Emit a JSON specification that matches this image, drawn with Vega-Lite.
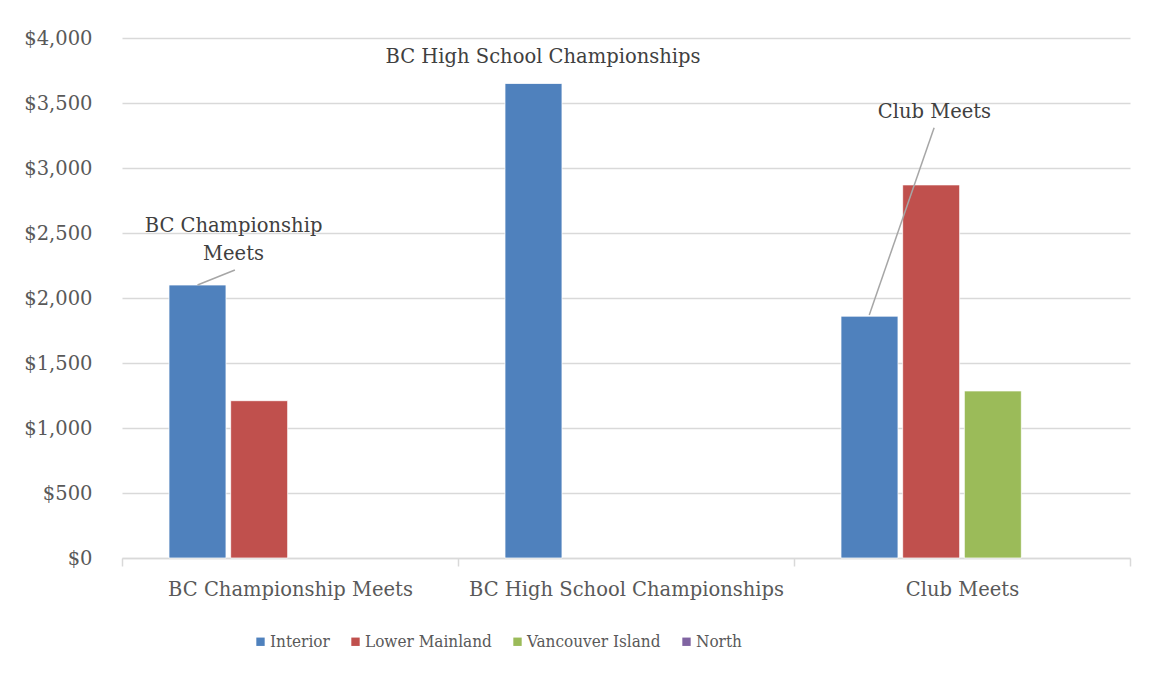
{
  "$schema": "https://vega.github.io/schema/vega-lite/v6.json",
  "autosize": "none",
  "width": 1008,
  "height": 520,
  "padding": {"left": 122, "top": 38, "right": 19, "bottom": 116},
  "background": "white",
  "config": {
    "font": "DejaVu Serif",
    "view": {"stroke": null},
    "axis": {"labelFont": "DejaVu Serif", "labelColor": "#595959", "labelFontSize": 19.5},
    "legend": {"labelFont": "DejaVu Serif Condensed"}
  },
  "datasets": {
    "bars": [
      {"category": "BC Championship Meets", "region": "Interior", "amount": 2100},
      {"category": "BC Championship Meets", "region": "Lower Mainland", "amount": 1210},
      {"category": "BC High School Championships", "region": "Interior", "amount": 3650},
      {"category": "Club Meets", "region": "Interior", "amount": 1860},
      {"category": "Club Meets", "region": "Lower Mainland", "amount": 2870},
      {"category": "Club Meets", "region": "Vancouver Island", "amount": 1285}
    ],
    "notes": [
      {"label": "BC Championship\nMeets", "pos": 0.332, "amount": 2554},
      {"label": "BC High School Championships", "pos": 1.253, "amount": 3855},
      {"label": "Club Meets", "pos": 2.418, "amount": 3431}
    ],
    "leaders": [
      {"pos": 0.2247, "amount": 2100, "pos2": 0.336, "amount2": 2215},
      {"pos": 2.224, "amount": 1870, "pos2": 2.417, "amount2": 3310}
    ]
  },
  "layer": [
    {
      "data": {"name": "bars"},
      "mark": {"type": "bar", "stroke": "white", "strokeWidth": 0.75},
      "encoding": {
        "x": {
          "field": "category",
          "type": "nominal",
          "sort": ["BC Championship Meets", "BC High School Championships", "Club Meets"],
          "scale": {"paddingInner": 0, "paddingOuter": 0},
          "axis": {
            "title": null,
            "labelAngle": 0,
            "labelFontSize": 19.5,
            "labelColor": "#595959",
            "labelLimit": 0,
            "tickBand": "extent",
            "ticks": true,
            "tickSize": 8,
            "tickColor": "#d9d9d9",
            "tickWidth": 1.5,
            "domainColor": "#d9d9d9",
            "domainWidth": 1.5,
            "labelPadding": 14,
            "grid": false
          }
        },
        "xOffset": {
          "field": "region",
          "type": "nominal",
          "scale": {
            "domain": ["Interior", "Lower Mainland", "Vancouver Island", "North"],
            "paddingInner": 0.076,
            "paddingOuter": 0.762
          }
        },
        "y": {
          "field": "amount",
          "type": "quantitative",
          "scale": {"domain": [0, 4000], "nice": false},
          "axis": {
            "title": null,
            "values": [0, 500, 1000, 1500, 2000, 2500, 3000, 3500, 4000],
            "format": "$,.0f",
            "domain": false,
            "ticks": false,
            "labelPadding": 30,
            "gridColor": "#d9d9d9",
            "gridWidth": 1.5
          }
        },
        "color": {
          "field": "region",
          "type": "nominal",
          "scale": {
            "domain": ["Interior", "Lower Mainland", "Vancouver Island", "North"],
            "range": ["#4F81BD", "#C0504D", "#9BBB59", "#8064A2"]
          },
          "legend": {
            "title": null,
            "orient": "none",
            "direction": "horizontal",
            "legendX": 130,
            "legendY": 595,
            "symbolType": "square",
            "symbolSize": 70,
            "symbolStrokeWidth": 0,
            "labelFontSize": 17,
            "labelLimit": 0,
            "labelColor": "#595959",
            "labelOffset": 1,
            "columnPadding": 17
          }
        }
      }
    },
    {
      "data": {"name": "leaders"},
      "mark": {"type": "rule", "color": "#a6a6a6", "strokeWidth": 1.5},
      "encoding": {
        "x": {"field": "pos", "type": "quantitative", "scale": {"domain": [0, 3], "nice": false, "zero": false}, "axis": null},
        "x2": {"field": "pos2"},
        "y": {"field": "amount", "type": "quantitative"},
        "y2": {"field": "amount2"}
      }
    },
    {
      "data": {"name": "notes"},
      "mark": {"type": "text", "fontSize": 19.5, "color": "#404040", "align": "center", "baseline": "middle", "lineBreak": "\n", "lineHeight": 28},
      "encoding": {
        "x": {"field": "pos", "type": "quantitative", "scale": {"domain": [0, 3], "nice": false, "zero": false}, "axis": null},
        "y": {"field": "amount", "type": "quantitative"},
        "text": {"field": "label"}
      }
    }
  ],
  "resolve": {"scale": {"x": "independent"}}
}
